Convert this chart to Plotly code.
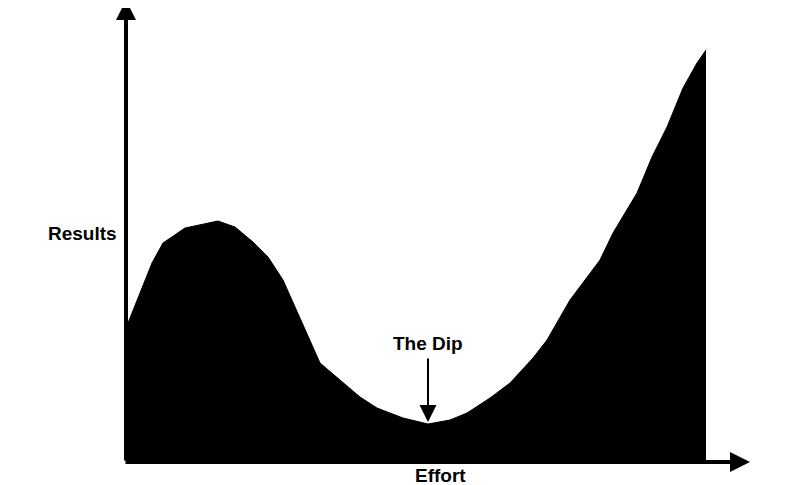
import plotly.graph_objects as go

# Kurve "The Dip": Aufwand (x) gegen Ergebnis (y)
effort = [0, 14, 26, 37, 59, 92, 109, 127, 142, 157, 176, 194, 214, 234, 251, 277,
          302, 324, 341, 364, 384, 407, 421, 444, 474, 487, 511, 526, 541, 557, 571, 580]
results = [132, 167, 197, 217, 232, 239, 233, 218, 203, 180, 137, 97, 80, 63, 52, 42,
           36, 40, 47, 62, 77, 102, 120, 160, 200, 227, 267, 303, 333, 372, 397, 410]

x_label = "Effort"
y_label = "Results"
dip_label = "The Dip"
dip_x = 302

font = dict(family="Liberation Sans, Arial, sans-serif", size=19, color="black")

fig = go.Figure(go.Scatter(
    x=effort, y=results, mode="lines", fill="tozeroy",
    line=dict(color="black", width=1), fillcolor="black", hoverinfo="skip",
))

# Achsen als Pfeile
fig.add_annotation(x=0, y=460, ax=0, ay=-2, xref="x", yref="y", axref="x", ayref="y",
                   text="", showarrow=True, arrowhead=2, arrowsize=1, arrowwidth=4,
                   arrowcolor="black", standoff=0)
fig.add_annotation(x=624, y=-2, ax=-2, ay=-2, xref="x", yref="y", axref="x", ayref="y",
                   text="", showarrow=True, arrowhead=2, arrowsize=1, arrowwidth=4,
                   arrowcolor="black", standoff=0)

# Beschriftungen
fig.add_annotation(x=-44, y=227, text="<b>%s</b>" % y_label, showarrow=False, font=font)
fig.add_annotation(x=314, y=-15, text="<b>%s</b>" % x_label, showarrow=False, font=font)
fig.add_annotation(x=dip_x, y=117, text="<b>%s</b>" % dip_label, showarrow=False, font=font)
fig.add_annotation(x=dip_x, y=38, ax=dip_x, ay=103, xref="x", yref="y", axref="x", ayref="y",
                   text="", showarrow=True, arrowhead=2, arrowsize=1.7, arrowwidth=2,
                   arrowcolor="black", standoff=0)

# die Seite hat 8px Rand, deshalb die Bereiche um 8px verschoben
fig.update_layout(
    width=800, height=485,
    margin=dict(l=0, r=0, t=0, b=0),
    paper_bgcolor="white", plot_bgcolor="white",
    showlegend=False,
    xaxis=dict(range=[-118, 682], visible=False, fixedrange=True),
    yaxis=dict(range=[-33, 452], visible=False, fixedrange=True),
)

fig.write_html("out.html")
